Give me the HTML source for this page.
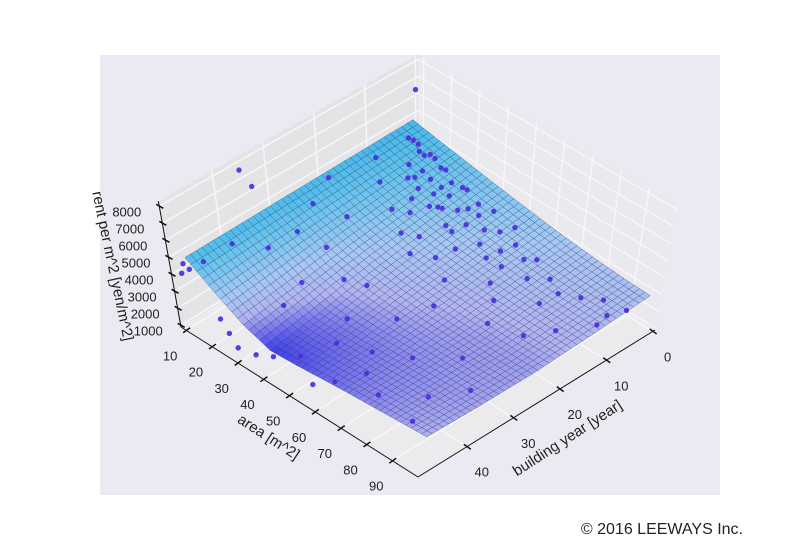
<!DOCTYPE html>
<html><head><meta charset="utf-8">
<style>
html,body{margin:0;padding:0;background:#fff;}
svg{display:block;font-family:"Liberation Sans","DejaVu Sans",sans-serif;}
</style></head>
<body>
<svg id="chart" width="800" height="550" viewBox="0 0 800 550">
<rect x="100" y="55" width="620" height="440" fill="#eaeaf2"/>
<g id="panes"></g>
<g id="grid"></g>
<g id="surface"></g>
<g id="points"></g>
<g id="axes"></g>
<text x="108" y="267" font-size="15" fill="#222" text-anchor="middle" transform="rotate(78 108 267)">rent per m^2 [yen/m^2]</text>
<text x="266" y="441" font-size="15" fill="#222" text-anchor="middle" transform="rotate(33 266 441)">area [m^2]</text>
<text x="570" y="442" font-size="15" fill="#222" text-anchor="middle" transform="rotate(-33 570 442)">building year [year]</text>
<text x="743" y="534" font-size="16" fill="#222" text-anchor="end">© 2016 LEEWAYS Inc.</text>
</svg>
<script>
// ---- data ----
const surfArea = [7,17,27,37,47,57,67,77,87,97];
const surfAge = [0,12,24,36,47];
const surfRent0  = [4430,4150,3880,3620,3390,3180,3000,2860,2770,2720];
const surfRent12 = [4400,3920,3500,3200,2980,2800,2660,2560,2500,2480];
const surfRent24 = [4370,3700,3120,2750,2530,2400,2320,2280,2270,2290];
const surfRent36 = [4330,3450,2620,2150,2080,2100,2150,2200,2250,2300];
const surfRent47 = [4300,3200,2250,1700,1800,1950,2080,2180,2280,2380];
const surfRows = [surfRent0,surfRent12,surfRent24,surfRent36,surfRent47];

const ptArea = [18,18,18,20,22,22,24,25,26,26,27,28,30,30,31,32,33,34,35,36,38,38,40,41,42,44,45,46,48,50,52,54,56,58,60,62,65,68,70,75,80,85,90,95,
15,20,25,28,30,33,35,38,40,42,45,48,50,55,58,60,65,70,75,80,85,90,12,15,18,22,25,28,30,35,40,45,50,55,60,65,70,75,80,85,92,12,10,8,8,9,20,25,30,35,40,55,60,95,97,88,45,8,8,8,16];
const ptAge = [5,6,7,8,6,7,9,8,6,7,10,8,6,7,9,8,11,7,8,10,6,7,9,12,8,7,10,8,6,9,11,8,6,10,8,12,9,8,11,9,10,8,6,8,
12,14,11,16,13,15,18,12,17,20,13,18,15,20,13,25,16,18,22,14,20,16,20,25,30,22,28,35,40,30,28,35,40,30,38,42,35,45,30,40,35,40,45,48,47,49,48,49,50,49,48,48,46,10,5,45,45,0,35,33,35];
const ptRent = [4900,5300,5600,4400,4800,5200,4200,4500,5000,5400,4000,4300,4700,5000,3900,4200,3700,4500,4000,3700,4300,4600,3800,3500,3900,4200,3600,3900,4000,3600,3300,3700,3800,3300,3500,3100,3300,3400,3000,3100,2900,2800,2800,2700,
5000,4400,4600,3900,4200,4000,3500,4300,3600,3300,3700,3300,3500,3000,3400,2800,3100,2900,2700,3000,2600,2700,4900,4500,4000,3900,3400,2800,2500,2800,2600,2300,2200,2400,2300,2200,2400,2400,2500,2400,2600,4400,4000,4200,3700,3900,2100,1900,1700,1600,1800,1600,1900,2500,2700,2100,1800,6300,7500,6200,3700];

const zTicks = [1000,2000,3000,4000,5000,6000,7000,8000];
const areaTicks = [10,20,30,40,50,60,70,80,90];
const ageTicks = [0,10,20,30,40];

// ---- projection ----
const A0=8,A1=100,Y0=-0.5,Y1=50.5,Z0=900,Z1=8300;
function P(a,y,z){
  const u=(a-A0)/(A1-A0), v=(y-Y0)/(Y1-Y0);
  const fx=418+237*u-237*v, fy=180+150*u+147*v;
  const h=(z-Z0)*0.017;
  return [fx+(fx-418)*h*0.00076, fy-h];
}
const NS="http://www.w3.org/2000/svg";
function mk(tag,attrs,parent){const e=document.createElementNS(NS,tag);for(const k in attrs)e.setAttribute(k,attrs[k]);parent.appendChild(e);return e;}
function pts(arr){return arr.map(p=>p[0].toFixed(1)+","+p[1].toFixed(1)).join(" ");}

// panes
const panes=document.getElementById('panes');
let e;
e=mk('polygon',{points:pts([P(A0,Y0,Z0),P(A1,Y0,Z0),P(A1,Y1,Z0),P(A0,Y1,Z0)]),fill:'#ebebee'},panes);


e=mk('polygon',{points:pts([P(A0,Y0,Z0),P(A0,Y1,Z0),P(A0,Y1,Z1),P(A0,Y0,Z1)]),fill:'#e4e4e7'},panes);


e=mk('polygon',{points:pts([P(A0,Y0,Z0),P(A1,Y0,Z0),P(A1,Y0,Z1),P(A0,Y0,Z1)]),fill:'#e9e9ee'},panes);



// gridlines
const grid=document.getElementById('grid');
function gl(p,q){const l=mk('line',{x1:p[0],y1:p[1],x2:q[0],y2:q[1],stroke:'#f6f6f8','stroke-width':1.6},grid);

}
zTicks.forEach(z=>{gl(P(A0,Y1,z),P(A0,Y0,z));gl(P(A0,Y0,z),P(A1,Y0,z));});
areaTicks.forEach(a=>{gl(P(a,Y0,Z0),P(a,Y0,Z1));gl(P(a,Y0,Z0),P(a,Y1,Z0));});
ageTicks.forEach(y=>{gl(P(A0,y,Z0),P(A0,y,Z1));gl(P(A0,y,Z0),P(A1,y,Z0));});

// surface
function surfZ(a,y){
  let i=0;while(i<surfArea.length-2&&a>surfArea[i+1])i++;
  let j=0;while(j<surfAge.length-2&&y>surfAge[j+1])j++;
  const ta=(a-surfArea[i])/(surfArea[i+1]-surfArea[i]);
  const ty=(y-surfAge[j])/(surfAge[j+1]-surfAge[j]);
  const r0=surfRows[j],r1=surfRows[j+1];
  const z0=r0[i]*(1-ta)+r0[i+1]*ta, z1=r1[i]*(1-ta)+r1[i+1]*ta;
  return z0*(1-ty)+z1*ty;
}
const cmapZ=[1700,2050,2400,3000,3800,4500];
const cmapC=[[62,62,238],[118,118,240],[176,180,242],[165,200,245],[108,196,240],[64,184,236]];
function col(z){
  if(z<=cmapZ[0])return cmapC[0];
  for(let k=0;k<cmapZ.length-1;k++){if(z<=cmapZ[k+1]){const t=(z-cmapZ[k])/(cmapZ[k+1]-cmapZ[k]);return cmapC[k].map((c,n)=>Math.round(c+(cmapC[k+1][n]-c)*t));}}
  return cmapC[cmapC.length-1];
}
const surf=document.getElementById('surface');
const NA=45,NY=40;
const aMin=surfArea[0],aMax=surfArea[surfArea.length-1],yMin=surfAge[0],yMax=surfAge[surfAge.length-1];
const quads=[];
for(let i=0;i<NA;i++)for(let j=0;j<NY;j++)quads.push([i,j]);
quads.sort((p,q)=>(p[0]/NA+p[1]/NY)-(q[0]/NA+q[1]/NY));
quads.forEach(([i,j])=>{
  const a0=aMin+(aMax-aMin)*i/NA,a1=aMin+(aMax-aMin)*(i+1)/NA;
  const y0=yMin+(yMax-yMin)*j/NY,y1=yMin+(yMax-yMin)*(j+1)/NY;
  const zs=[surfZ(a0,y0),surfZ(a1,y0),surfZ(a1,y1),surfZ(a0,y1)];
  const c=col((zs[0]+zs[1]+zs[2]+zs[3])/4);
  const q=mk('polygon',{points:pts([P(a0,y0,zs[0]),P(a1,y0,zs[1]),P(a1,y1,zs[2]),P(a0,y1,zs[3])]),fill:`rgb(${c[0]},${c[1]},${c[2]})`,stroke:'rgba(45,45,70,0.55)','stroke-width':0.5},surf);
  
  
});

// points
const pg=document.getElementById('points');
for(let k=0;k<ptArea.length;k++){
  const p=P(ptArea[k],ptAge[k],ptRent[k]);
  const c=mk('circle',{cx:p[0].toFixed(1),cy:p[1].toFixed(1),r:2.4,fill:'#3b2ee8',stroke:'#6a3ad0','stroke-width':0.6,'fill-opacity':0.9},pg);
  
  
}

// axes
const ax=document.getElementById('axes');
function line(p,q,name,w){const l=mk('line',{x1:p[0],y1:p[1],x2:q[0],y2:q[1],stroke:'#111','stroke-width':w||1},ax);

}
function txt(x,y,s,name,anchor){const t=mk('text',{x:x,y:y,'font-size':13,fill:'#222','text-anchor':anchor||'middle'},ax);t.textContent=s;

}
line(P(A0,Y1,Z0),P(A0,Y1,Z1),'z-axis-line');
line(P(A0,Y1,Z0),P(A1,Y1,Z0),'area-axis-line');
line(P(A1,Y1,Z0),P(A1,Y0,Z0),'year-axis-line');
zTicks.forEach(z=>{const p=P(A0,Y1,z);line([p[0]-3,p[1]-2],[p[0]+4,p[1]+2],'z-tick',1.5);
  txt(p[0]-18,p[1]+10,String(z),'z-tick-label','end');});
areaTicks.forEach(a=>{const p=P(a,Y1,Z0);line([p[0]-3,p[1]+2.5],[p[0]+4,p[1]-2.5],'area-tick',1.5);
  txt(p[0]-16,p[1]+30,String(a),'area-tick-label');});
ageTicks.forEach(y=>{const p=P(A1,y,Z0);line([p[0]-3,p[1]-2.5],[p[0]+4,p[1]+2.5],'year-tick',1.5);
  txt(p[0]+15,p[1]+30,String(y),'year-tick-label');});
</script>
</body></html>
